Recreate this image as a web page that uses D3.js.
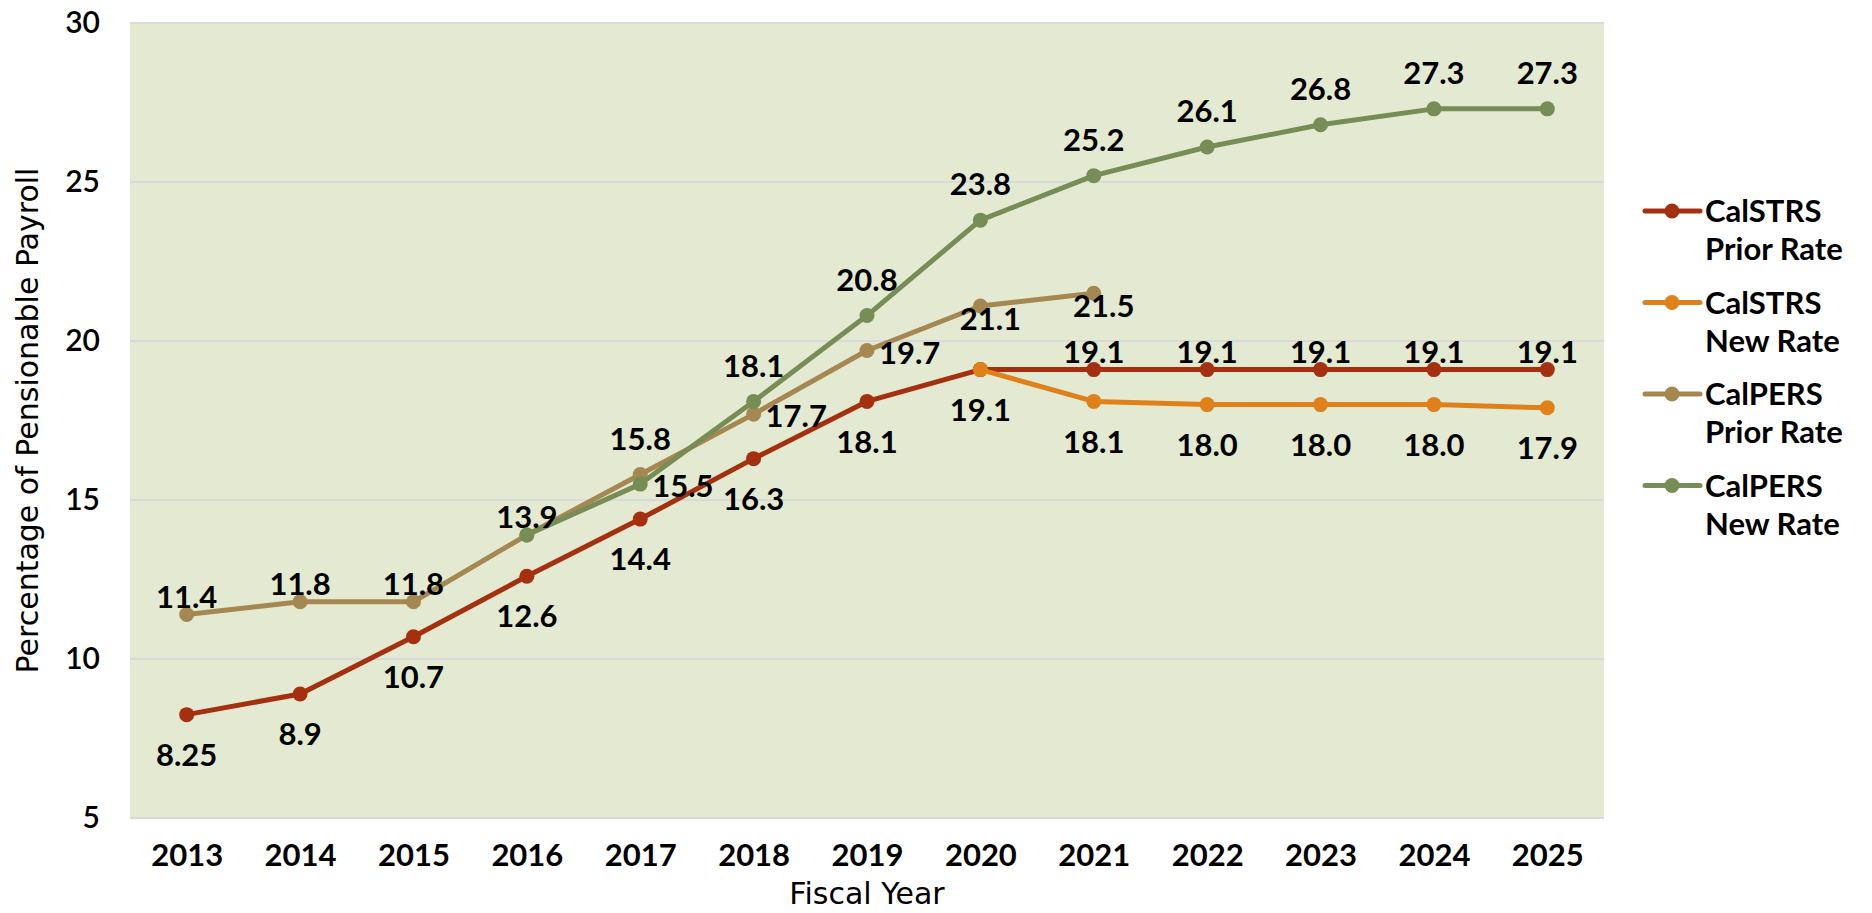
<!DOCTYPE html>
<html>
<head>
<meta charset="utf-8">
<script src="https://cdn.jsdelivr.net/npm/d3@7/dist/d3.min.js"></script>
<style>
  html, body { margin: 0; padding: 0; background: #ffffff; }
  svg { display: block; font-family: Lato, "Open Sans", sans-serif; }
</style>
</head>
<body>
<div id="chart"></div>
<script>
// Employer contribution rates, CalSTRS vs CalPERS, prior vs new schedule.

const years = [2013, 2014, 2015, 2016, 2017, 2018, 2019, 2020, 2021, 2022, 2023, 2024, 2025];
const yTicks = [5, 10, 15, 20, 25, 30];

const calstrsPrior = [8.25, 8.9, 10.7, 12.6, 14.4, 16.3, 18.1, 19.1, 19.1, 19.1, 19.1, 19.1, 19.1];
const calstrsNew = [null, null, null, null, null, null, null, 19.1, 18.1, 18.0, 18.0, 18.0, 17.9];
const calpersPrior = [11.4, 11.8, 11.8, 13.9, 15.8, 17.7, 19.7, 21.1, 21.5, null, null, null, null];
const calpersNew = [null, null, null, 13.9, 15.5, 18.1, 20.8, 23.8, 25.2, 26.1, 26.8, 27.3, 27.3];

// where each data label sits relative to its point ("none" = hidden)
const calstrsPriorLabels = ["below", "below", "below", "below", "below", "below", "below", "below",
  "aboveNear", "aboveNear", "aboveNear", "aboveNear", "aboveNear"];
const calstrsNewLabels = [null, null, null, null, null, null, null, "none",
  "below", "below", "below", "below", "below"];
const calpersPriorLabels = ["aboveNear", "aboveNear", "aboveNear", "aboveNear", "above", "right", "right",
  "belowRight", "belowRight", null, null, null, null];
const calpersNewLabels = [null, null, null, "none", "right", "above", "above", "above", "above",
  "above", "above", "above", "above"];

const seriesNames = ["CalSTRS\nPrior Rate", "CalSTRS\nNew Rate", "CalPERS\nPrior Rate", "CalPERS\nNew Rate"];
const seriesColors = ["#a5300f", "#e0801b", "#a58752", "#768d55"];

const series = [
  { name: seriesNames[0], color: seriesColors[0], values: calstrsPrior, labels: calstrsPriorLabels },
  { name: seriesNames[1], color: seriesColors[1], values: calstrsNew, labels: calstrsNewLabels },
  { name: seriesNames[2], color: seriesColors[2], values: calpersPrior, labels: calpersPriorLabels },
  { name: seriesNames[3], color: seriesColors[3], values: calpersNew, labels: calpersNewLabels },
];

const labelOffset = {
  above: { dx: 0, dy: -36, anchor: "middle" },
  aboveNear: { dx: 0, dy: -18, anchor: "middle" },
  below: { dx: 0, dy: 40, anchor: "middle" },
  right: { dx: 12, dy: 2, anchor: "start" },
  belowRight: { dx: 10, dy: 13, anchor: "middle" },
};

const fmt = (v) => (Math.round(v * 10) === v * 10 ? v.toFixed(1) : String(v));

const width = 1872, height = 913;
const m = { top: 23, right: 268, bottom: 95, left: 130 };

const svg = d3.select("#chart").append("svg")
  .attr("width", width).attr("height", height)
  .attr("viewBox", `0 0 ${width} ${height}`);

const x = d3.scalePoint().domain(years).range([m.left, width - m.right]).padding(0.5);
const y = d3.scaleLinear().domain([5, 30]).range([height - m.bottom, m.top]);

// plot background
svg.append("rect")
  .attr("x", m.left).attr("y", m.top)
  .attr("width", width - m.left - m.right)
  .attr("height", height - m.top - m.bottom)
  .attr("fill", "#e3ead1");

// gridlines
svg.append("g").selectAll("line").data(yTicks).join("line")
  .attr("x1", m.left).attr("x2", width - m.right)
  .attr("y1", (d) => y(d)).attr("y2", (d) => y(d))
  .attr("stroke", "#d9d9d9").attr("stroke-width", 2);

// y axis
svg.append("g")
  .attr("transform", `translate(${m.left},0)`)
  .call(d3.axisLeft(y).tickValues(yTicks).tickSize(0).tickPadding(30))
  .call((g) => g.select(".domain").remove())
  .selectAll("text")
  .attr("fill", "#000").style("font-size", "30px").style("font-weight", 600)
  .style("font-family", "Lato, sans-serif");

// x axis
svg.append("g")
  .attr("transform", `translate(0,${height - m.bottom})`)
  .call(d3.axisBottom(x).tickSize(0).tickPadding(26))
  .call((g) => g.select(".domain").remove())
  .selectAll("text")
  .attr("fill", "#000").style("font-size", "31px").style("font-weight", 700)
  .style("font-family", "Lato, sans-serif");

// axis titles (wider face, closer to the original's geometric font)
svg.append("text")
  .attr("transform", `translate(38,${(m.top + height - m.bottom) / 2}) rotate(-90)`)
  .attr("text-anchor", "middle")
  .attr("fill", "#000").style("font-size", "30px")
  .style("font-family", "'DejaVu Sans', sans-serif")
  .text("Percentage of Pensionable Payroll");

svg.append("text")
  .attr("x", (m.left + width - m.right) / 2).attr("y", 904)
  .attr("text-anchor", "middle")
  .attr("fill", "#000").style("font-size", "30px")
  .style("font-family", "'DejaVu Sans', sans-serif")
  .text("Fiscal Year");

// lines and markers
const line = d3.line()
  .defined((d) => d.v != null)
  .x((d) => x(d.year))
  .y((d) => y(d.v));

for (const s of series) {
  const pts = years.map((year, i) => ({ year, v: s.values[i], pos: s.labels[i] }));
  svg.append("path")
    .datum(pts)
    .attr("fill", "none")
    .attr("stroke", s.color)
    .attr("stroke-width", 5)
    .attr("stroke-linejoin", "round")
    .attr("d", line);
  svg.append("g").selectAll("circle")
    .data(pts.filter((d) => d.v != null))
    .join("circle")
    .attr("cx", (d) => x(d.year)).attr("cy", (d) => y(d.v))
    .attr("r", 7.5)
    .attr("fill", s.color);
}

// data labels on top of every line
for (const s of series) {
  const pts = years.map((year, i) => ({ year, v: s.values[i], pos: s.labels[i] }))
    .filter((d) => d.v != null && labelOffset[d.pos]);
  svg.append("g").selectAll("text")
    .data(pts)
    .join("text")
    .attr("x", (d) => x(d.year) + labelOffset[d.pos].dx)
    .attr("y", (d) => y(d.v) + labelOffset[d.pos].dy)
    .attr("dy", "0.36em")
    .attr("text-anchor", (d) => labelOffset[d.pos].anchor)
    .attr("fill", "#000")
    .style("font-size", "31px").style("font-weight", 700)
    .text((d) => fmt(d.v));
}

// legend
const legend = svg.append("g").attr("transform", "translate(1645,211)");
series.forEach((s, i) => {
  const g = legend.append("g").attr("transform", `translate(0,${i * 91.5})`);
  g.append("line")
    .attr("x1", 0).attr("x2", 55).attr("y1", 0).attr("y2", 0)
    .attr("stroke", s.color).attr("stroke-width", 5).attr("stroke-linecap", "round");
  g.append("circle").attr("cx", 27).attr("cy", 0).attr("r", 7.5).attr("fill", s.color);
  const t = g.append("text")
    .attr("x", 60).attr("y", 11)
    .attr("fill", "#000").style("font-size", "31px").style("font-weight", 700);
  s.name.split("\n").forEach((part, j) => {
    t.append("tspan").attr("x", 60).attr("dy", j === 0 ? 0 : 38).text(part);
  });
});
</script>
</body>
</html>
